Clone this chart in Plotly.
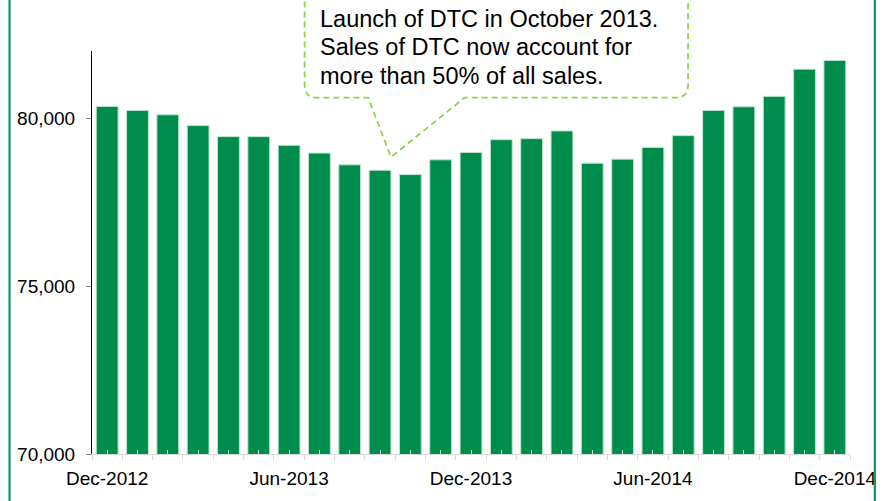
import plotly.graph_objects as go

months = ["Dec-2012", "Jan-2013", "Feb-2013", "Mar-2013", "Apr-2013", "May-2013",
          "Jun-2013", "Jul-2013", "Aug-2013", "Sep-2013", "Oct-2013", "Nov-2013",
          "Dec-2013", "Jan-2014", "Feb-2014", "Mar-2014", "Apr-2014", "May-2014",
          "Jun-2014", "Jul-2014", "Aug-2014", "Sep-2014", "Oct-2014", "Nov-2014",
          "Dec-2014"]
sales = [80350, 80230, 80100, 79780, 79450, 79450, 79190, 78960, 78610, 78450,
         78320, 78760, 78980, 79360, 79390, 79620, 78660, 78780, 79130, 79480,
         80230, 80340, 80650, 81460, 81720]
label_months = ["Dec-2012", "Jun-2013", "Dec-2013", "Jun-2014", "Dec-2014"]
y_ticks = [70000, 75000, 80000]
callout_lines = ["Launch of DTC in October 2013.",
                 "Sales of DTC now account for",
                 "more than 50% of all sales."]

W, H = 888, 501
L, R, T, B = 92, 855, 51, 465

def px(x):  # pixel x -> paper
    return (x - L) / (R - L)

def py(y):  # pixel y -> paper
    return (B - y) / (B - T)

FONT = "Liberation Sans, Arial, sans-serif"
BAR = "#008C4C"
BORDER = "#17925F"
CALL = "#92D050"

fig = go.Figure()
fig.add_trace(go.Bar(x=months, y=sales, marker=dict(color=BAR, line=dict(color="#BFE3CF", width=1)),
                     hoverinfo="skip"))
fig.add_trace(go.Scatter(x=months, y=sales, xaxis="x2", mode="markers",
                         marker=dict(opacity=0), hoverinfo="skip", showlegend=False))
fig.add_trace(go.Scatter(x=months, y=sales, xaxis="x3", mode="markers",
                         marker=dict(opacity=0), hoverinfo="skip", showlegend=False))

rng = [-0.5, len(months) - 0.5]
fig.update_layout(
    width=W, height=H,
    margin=dict(l=L, r=W - R, t=T, b=H - B, pad=0),
    paper_bgcolor="white", plot_bgcolor="white",
    showlegend=False,
    bargap=0.28,
    font=dict(family=FONT, size=19, color="#000000"),
    xaxis=dict(type="category", categoryorder="array", categoryarray=months, range=rng,
               tickmode="array", tickvals=label_months, ticktext=label_months,
               ticks="", showline=True, linecolor="#D9D9D9", linewidth=1,
               ticklabelstandoff=7,
               showgrid=False, zeroline=False, tickfont=dict(size=19, family=FONT)),
    xaxis2=dict(type="category", categoryorder="array", categoryarray=months, range=rng,
                overlaying="x", anchor="y", tickson="boundaries", ticks="outside",
                ticklen=5, tickcolor="#D9D9D9", tickwidth=1, showticklabels=False,
                showgrid=False, showline=False, zeroline=False),
    xaxis3=dict(type="category", categoryorder="array", categoryarray=months, range=rng,
                overlaying="x", anchor="y", ticks="inside", ticklen=4,
                tickcolor="#BFE3CF", tickwidth=1, showticklabels=False,
                showgrid=False, showline=False, zeroline=False),
    yaxis=dict(range=[70000, 82000], tickvals=y_ticks, tickformat=",",
               ticks="outside", ticklen=5, tickcolor="#808080", tickwidth=1,
               showline=True, linecolor="#000000", linewidth=1,
               showgrid=False, zeroline=False, ticklabelstandoff=7,
               tickfont=dict(size=19, family=FONT)),
)

# green frame lines (left and right edges of the slide frame)
for xp in (9, 880):
    fig.add_shape(type="line", xref="paper", yref="paper",
                  x0=px(xp), x1=px(xp), y0=py(-5), y1=py(520),
                  line=dict(color=BORDER, width=2.2))

# callout bubble
x0, x1, yb, ytop, r = 306, 692, 99, -10, 13
p1, tip, p2 = 370, (393, 160), 467
path = (f"M {px(x0)},{py(ytop)} L {px(x0)},{py(yb - r)} "
        f"Q {px(x0)},{py(yb)} {px(x0 + r)},{py(yb)} "
        f"L {px(p1)},{py(yb)} L {px(tip[0])},{py(tip[1])} L {px(p2)},{py(yb)} "
        f"L {px(x1 - r)},{py(yb)} Q {px(x1)},{py(yb)} {px(x1)},{py(yb - r)} "
        f"L {px(x1)},{py(ytop)}")
fig.add_shape(type="path", xref="paper", yref="paper", path=path,
              line=dict(color=CALL, width=1.75, dash="6px,4px"), fillcolor="white",
              layer="above")

for i, line in enumerate(callout_lines):
    fig.add_annotation(xref="paper", yref="paper", x=px(319), y=py(2.5 + 29.2 * i),
                       xanchor="left", yanchor="top", align="left", showarrow=False,
                       text=line, font=dict(size=23.5, family=FONT, color="#000000"))

fig.write_html("out.html", config={"displayModeBar": False},
               post_script="document.body.style.margin='0';")
